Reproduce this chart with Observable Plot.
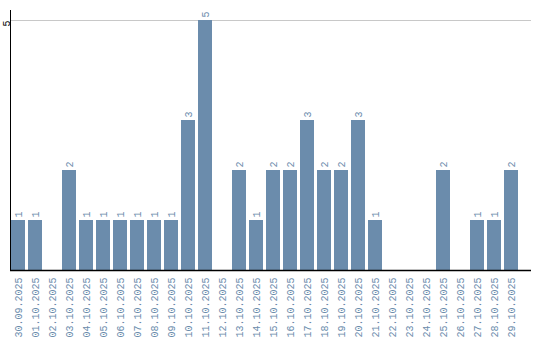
<!DOCTYPE html>
<html>
<head>
<meta charset="utf-8">
<script src="https://cdn.jsdelivr.net/npm/d3@7"></script>
<script src="https://cdn.jsdelivr.net/npm/@observablehq/plot@0.6"></script>
<style>
  body { margin: 0; background: #fff; }
</style>
</head>
<body>
<div id="chart"></div>
<script>
const dates = ["30.09.2025","01.10.2025","02.10.2025","03.10.2025","04.10.2025","05.10.2025","06.10.2025","07.10.2025","08.10.2025","09.10.2025","10.10.2025","11.10.2025","12.10.2025","13.10.2025","14.10.2025","15.10.2025","16.10.2025","17.10.2025","18.10.2025","19.10.2025","20.10.2025","21.10.2025","22.10.2025","23.10.2025","24.10.2025","25.10.2025","26.10.2025","27.10.2025","28.10.2025","29.10.2025"];
const counts = [1,1,0,2,1,1,1,1,1,1,3,5,0,2,1,2,2,3,2,2,3,1,0,0,0,2,0,1,1,2];
const yTicks = [5];

const data = dates.map((d, i) => ({date: d, count: counts[i]}));
const color = "#6b8cac";
const font = "Liberation Mono";

const chart = Plot.plot({
  width: 540,
  height: 340,
  marginLeft: 10,
  marginRight: 9,
  marginTop: 10,
  marginBottom: 70,
  style: {fontFamily: font, fontSize: "10px", background: "#fff"},
  x: {domain: dates, range: [10, 520], paddingInner: 0.176, paddingOuter: 0, label: null},
  y: {domain: [0, 5.2], label: null},
  marks: [
    Plot.ruleY(yTicks, {stroke: "#c8c8c8", strokeWidth: 1}),
    Plot.barY(data, {x: "date", y: "count", fill: color}),
    Plot.text(data.filter(d => d.count > 0), {
      x: "date", y: "count", text: d => String(d.count),
      rotate: -90, textAnchor: "start", dy: -3, fill: color, fontFamily: font, fontSize: 10
    }),
    Plot.axisX({tickSize: 0, tickPadding: 7, tickRotate: -90, fill: color, fontFamily: font, fontSize: 10, label: null}),
    Plot.axisY(yTicks, {tickSize: 0, tickPadding: 4, tickRotate: -90, tickFormat: d => String(d), textAnchor: "end", lineAnchor: "middle", fill: "#000", fontFamily: font, fontSize: 10, label: null}),
    Plot.frame({anchor: "left", stroke: "#000"}),
    Plot.ruleY([0], {stroke: "#000", strokeWidth: 1.5})
  ]
});
document.getElementById("chart").appendChild(chart);
</script>
</body>
</html>
